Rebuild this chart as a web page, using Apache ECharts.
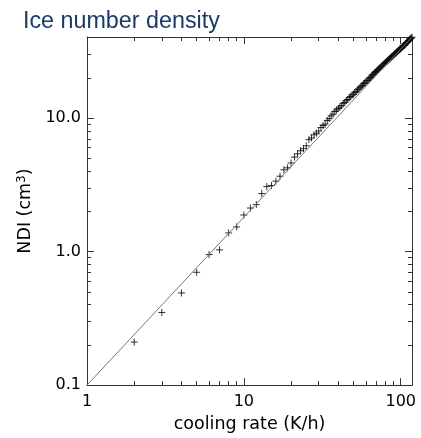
<!DOCTYPE html>
<html>
<head>
<meta charset="utf-8">
<script src="https://cdn.jsdelivr.net/npm/echarts@6/dist/echarts.min.js"></script>
<style>
html,body{margin:0;padding:0;background:#fff;}
#chart{width:421px;height:438px;}
</style>
</head>
<body>
<div id="chart"></div>
<script>
// ---- data ----
var coolingRate = [2,3,4,5,6,7,8,9,10,11,12,13,14,15,16,17,18,19,20,
  21,22,23,24,25,26,27,28,29,30,31,32,33,34,35,36,37,38,39,40,
  41,42,43,44,45,46,47,48,49,50,51,52,53,54,55,56,57,58,59,60,
  61,62,63,64,65,66,67,68,69,70,71,72,73,74,75,76,77,78,79,80,
  81,82,83,84,85,86,87,88,89,90,91,92,93,94,95,96,97,98,99,100,
  101,102,103,104,105,106,107,108,109,110,111,112,113,114,115,116,117,118];
var ndi = [0.21,0.35,0.49,0.70,0.95,1.03,1.38,1.53,1.88,2.12,2.25,2.72,3.07,3.13,3.37,3.67,4.1,4.24,4.61,
  5.1,5.4,5.7,5.9,6.2,6.9,7.1,7.5,7.7,8.0,8.5,8.8,9.0,9.6,9.9,10.4,10.7,11.2,11.5,11.8,
  12.1,12.4,12.9,13.1,13.5,13.8,14.3,14.5,14.9,15.1,15.5,15.8,16.3,16.5,16.9,17.3,17.6,18.1,18.3,18.6,
  19.1,19.3,19.9,20.1,20.6,21.1,21.3,21.8,22.1,22.4,22.9,23.1,23.6,23.9,24.2,24.7,24.9,25.4,25.7,26.0,
  26.5,26.7,27.2,27.5,27.8,28.3,28.5,29.0,29.3,29.6,30.1,30.3,30.7,31.1,31.4,31.9,32.1,32.6,32.9,33.1,
  33.6,33.9,34.5,34.8,35.0,35.2,35.9,36.1,36.8,37.1,37.3,38.0,38.2,38.9,39.2,39.5,40.0,40.3];
var fitX = [1, 118];
var fitY = [0.1, 40.4];

var xMin = 1, xMax = 118;
var yMin = 0.1, yMax = 40.5;
var xMajorTicks = [1, 10, 100];
var xMinorTicks = [2,3,4,5,6,7,8,9,20,30,40,50,60,70,80,90];
var yMajorTicks = [0.1, 1, 10];
var yMinorTicks = [0.2,0.3,0.4,0.5,0.6,0.7,0.8,0.9,2,3,4,5,6,7,8,9,20,30,40];

// ---- chart ----
var chart = echarts.init(document.getElementById('chart'), null, {renderer: 'canvas'});
var axisColor = '#333';
var titleFont = 'Liberation Sans, Arial, Helvetica, sans-serif';
var font = 'DejaVu Sans, sans-serif';

function xAx(pos, ticks, len, showLine, extra) {
  return Object.assign({
    type: 'log', logBase: 10, min: xMin, max: xMax, position: pos,
    axisLine: {show: showLine, lineStyle: {color: axisColor, width: 1}},
    axisTick: {show: true, inside: true, length: len, customValues: ticks, lineStyle: {color: axisColor, width: 1}},
    axisLabel: {show: false},
    splitLine: {show: false}, minorTick: {show: false}, minorSplitLine: {show: false}
  }, extra || {});
}
function yAx(pos, ticks, len, showLine, extra) {
  return Object.assign({
    type: 'log', logBase: 10, min: yMin, max: yMax, position: pos,
    axisLine: {show: showLine, lineStyle: {color: axisColor, width: 1}},
    axisTick: {show: true, inside: true, length: len, customValues: ticks, lineStyle: {color: axisColor, width: 1}},
    axisLabel: {show: false},
    splitLine: {show: false}, minorTick: {show: false}, minorSplitLine: {show: false}
  }, extra || {});
}

var option = {
  animation: false,
  backgroundColor: '#fff',
  title: {
    text: 'Ice number density', left: 23, top: 10, padding: 0,
    textStyle: {fontFamily: titleFont, fontSize: 23.3, fontWeight: 'normal', color: '#1b3a66'}
  },
  grid: {left: 87, right: 9, top: 37, bottom: 50, containLabel: false},
  xAxis: [
    xAx('bottom', xMajorTicks, 7, true, {
      name: 'cooling rate (K/h)', nameLocation: 'middle', nameGap: 23,
      nameTextStyle: {fontFamily: font, fontSize: 17.5, color: '#000'},
      axisLabel: {show: true, customValues: xMajorTicks, margin: 9, fontFamily: font, fontSize: 16, color: '#000',
        formatter: function (v) { return String(Math.round(v)); }}
    }),
    xAx('bottom', xMinorTicks, 4, false),
    xAx('top', xMajorTicks, 7, true),
    xAx('top', xMinorTicks, 4, false)
  ],
  yAxis: [
    yAx('left', yMajorTicks, 7, true, {
      name: '{a|NDI (cm}{s|3}{a|)}', nameLocation: 'middle', nameGap: 49,
      nameTextStyle: {fontFamily: font, fontSize: 17.5, color: '#000',
        rich: {
          a: {fontFamily: font, fontSize: 17.5, color: '#000', lineHeight: 20},
          s: {fontFamily: font, fontSize: 12, color: '#000', verticalAlign: 'top', lineHeight: 20, padding: [0, 0, 6, 0]}
        }},
      axisLabel: {show: true, customValues: yMajorTicks, margin: 6, fontFamily: font, fontSize: 16, color: '#000',
        formatter: function (v) { return Number(v).toFixed(1); }}
    }),
    yAx('left', yMinorTicks, 4, false),
    yAx('right', yMajorTicks, 7, true),
    yAx('right', yMinorTicks, 4, false)
  ],
  series: [
    {
      type: 'line', xAxisIndex: 0, yAxisIndex: 0,
      data: fitX.map(function (x, i) { return [x, fitY[i]]; }),
      symbol: 'none', lineStyle: {color: '#777', width: 1}, silent: true
    },
    {
      type: 'scatter', xAxisIndex: 0, yAxisIndex: 0,
      data: coolingRate.map(function (x, i) { return [x, ndi[i]]; }),
      symbol: 'path://M0,5L10,5M5,0L5,10', symbolSize: 7,
      itemStyle: {color: 'rgba(0,0,0,0)', borderColor: '#000', borderWidth: 1}
    }
  ]
};
chart.setOption(option);
</script>
</body>
</html>
